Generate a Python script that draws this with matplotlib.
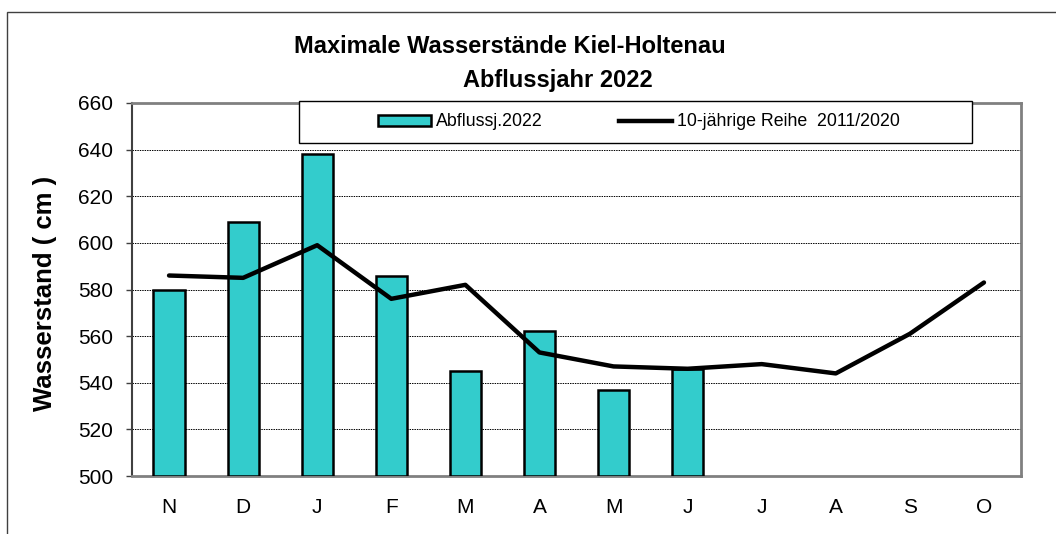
import numpy as np
import matplotlib
matplotlib.use('Agg')
import matplotlib.pyplot as plt
from matplotlib.patches import Rectangle, Patch
from matplotlib.lines import Line2D

plt.rcParams['font.family'] = ['Liberation Sans', 'DejaVu Sans']

monate = ['N', 'D', 'J', 'F', 'M', 'A', 'M', 'J', 'J', 'A', 'S', 'O']
abfluss2022 = [580, 609, 638, 586, 545, 562, 537, 546]
reihe = [586, 585, 599, 576, 582, 553, 547, 546, 548, 544, 561, 583]

W, H = 1056, 534
fig = plt.figure(figsize=(W / 100, H / 100), dpi=100)
ax = fig.add_axes([132 / W, 1 - 476 / H, (1021 - 132) / W, (476 - 103) / H])

x = np.arange(len(monate))
ax.bar(x[:len(abfluss2022)], np.array(abfluss2022) - 500, bottom=500, width=0.42,
       color='#33CCCC', edgecolor='black', linewidth=1.8, zorder=3)
ax.plot(x, reihe, color='black', linewidth=3.2, zorder=4, solid_capstyle='round')

ax.set_xlim(-0.5, len(monate) - 0.5)
ax.set_ylim(500, 660)
ax.set_yticks(range(500, 661, 20))
ax.set_xticks(x)
ax.set_xticklabels(monate)
ax.yaxis.grid(True, linestyle=(0, (1.5, 1)), color='black', linewidth=0.7)
ax.set_axisbelow(True)

ax.tick_params(axis='x', length=0, pad=16, labelsize=15)
ax.tick_params(axis='y', length=4.5, width=1, color='#404040', pad=9, labelsize=15)

for s in ['top', 'right', 'bottom']:
    ax.spines[s].set_color('#808080')
    ax.spines[s].set_linewidth(2)
ax.spines['left'].set_color('#404040')
ax.spines['left'].set_linewidth(1.5)

fig.text(45 / W, 1 - 293 / H, 'Wasserstand ( cm )', rotation=90, fontsize=18.5,
         fontweight='bold', ha='center', va='center')

fig.text(510 / W, 1 - 53 / H, 'Maximale Wasserstände Kiel-Holtenau', fontsize=17,
         fontweight='bold', ha='center', va='baseline')
fig.text(558 / W, 1 - 87 / H, 'Abflussjahr 2022', fontsize=17,
         fontweight='bold', ha='center', va='baseline')

# Legendenrahmen
fig.add_artist(Rectangle((299 / W, 1 - 143 / H), 673 / W, 42 / H,
                         transform=fig.transFigure, facecolor='white',
                         edgecolor='black', linewidth=1, zorder=4))
handles = [Patch(facecolor='#33CCCC', edgecolor='black', linewidth=1.8),
           Line2D([0], [0], color='black', linewidth=3.2)]
leg = fig.legend(handles, ['Abflussj.2022', '10-jährige Reihe  2011/2020'],
                 loc='center', bbox_to_anchor=(639 / W, 1 - 122 / H), ncol=2,
                 frameon=False, fontsize=12.8, handlelength=3.0, handleheight=0.6,
                 handletextpad=0.28, columnspacing=4.27)
leg.set_zorder(5)

# aeusserer Rahmen
fig.add_artist(Rectangle((7 / W, -0.1), 1.2, 1.1 - 12 / H,
                         transform=fig.transFigure, facecolor='none',
                         edgecolor='#404040', linewidth=1, zorder=1))

fig.savefig('out.png', dpi=100)
